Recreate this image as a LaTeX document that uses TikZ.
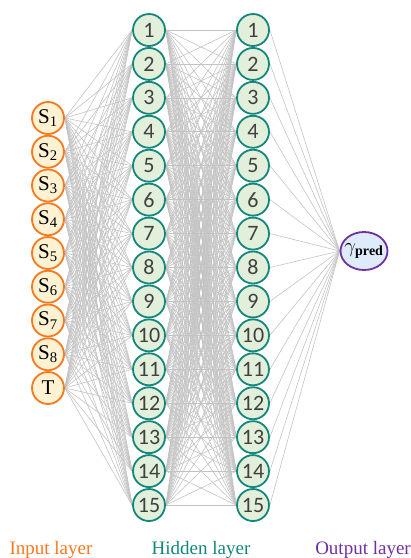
\documentclass[tikz,border=0pt]{standalone}
\usepackage{fontspec}
\setmainfont{Liberation Serif}
\newfontfamily\numfont{Carlito}
\usetikzlibrary{shapes.geometric,backgrounds}
\definecolor{inorange}{RGB}{250,120,30}
\definecolor{infill}{RGB}{255,242,210}
\definecolor{hidteal}{RGB}{20,135,125}
\definecolor{hidfill}{RGB}{226,239,218}
\definecolor{outpurple}{RGB}{112,48,160}
\definecolor{outfill}{RGB}{221,235,250}
\definecolor{edgegray}{RGB}{195,195,195}
\definecolor{numgray}{RGB}{64,64,64}
\tikzset{
  inbox/.style={circle,draw=inorange,fill=infill,line width=1.8pt,minimum size=32pt,inner sep=0pt,font=\fontsize{21}{21}\selectfont},
  hidbox/.style={circle,draw=hidteal,fill=hidfill,line width=1.8pt,minimum size=32pt,inner sep=0pt,text=numgray,font=\numfont\fontsize{22}{22}\selectfont},
  outbox/.style={ellipse,draw=outpurple,fill=outfill,line width=1.8pt,minimum width=47pt,minimum height=38pt,inner sep=0pt},
  outtext/.style={font=\fontsize{20}{20}\selectfont,inner sep=0pt},
  edge/.style={draw=edgegray,line width=0.6pt},
  laybox/.style={font=\fontsize{19}{19}\selectfont,anchor=base,inner sep=0pt}
}
\begin{document}
\begin{tikzpicture}[x=1pt,y=-1pt]
\useasboundingbox (0,0) rectangle (411,558);
\foreach \i in {1,...,8} {
  \node[inbox] (i\i) at (48,{118+(\i-1)*33.75}) {S\textsubscript{\i}};
}
\node[inbox] (i9) at (48,388) {T};
\foreach \k in {1,...,15} {
  \node[hidbox] (a\k) at (149,{30+(\k-1)*33.93}) {\k};
  \node[hidbox] (b\k) at (253,{30+(\k-1)*33.93}) {\k};
}
\node[outbox] (o) at (364,251) {};
\node[outtext] (ot) at (o.center) {$\gamma_{\mathbf{pred}}$};
\begin{pgfonlayer}{background}
\foreach \i in {1,...,9} {
  \foreach \k in {1,...,15} {
    \draw[edge] (i\i.east) -- (a\k.west);
  }
}
\foreach \j in {1,...,15} {
  \foreach \k in {1,...,15} {
    \draw[edge] (a\j.east) -- (b\k.west);
  }
  \draw[edge] (b\j.east) -- (o.west);
}
\end{pgfonlayer}
\node[laybox,text=inorange] (l1) at (51,554) {Input layer};
\node[laybox,text=hidteal] (l2) at (201,554) {Hidden layer};
\node[laybox,text=outpurple] (l3) at (363,554) {Output layer};
\end{tikzpicture}
\end{document}
